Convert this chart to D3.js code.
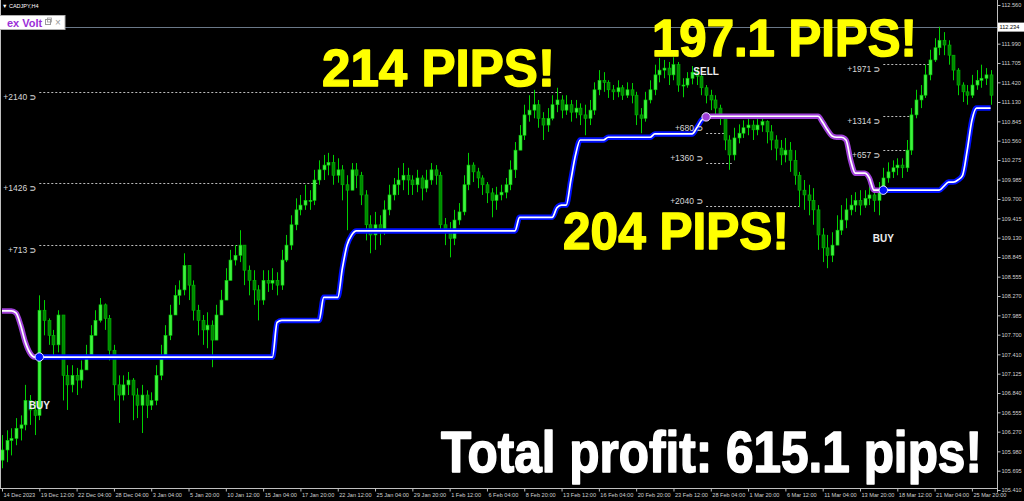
<!DOCTYPE html>
<html><head><meta charset="utf-8">
<script src="https://cdn.jsdelivr.net/npm/d3@7"></script>
<style>html,body{margin:0;padding:0;background:#000;overflow:hidden}svg{display:block}</style>
</head><body><svg id="c" width="1024" height="501"></svg>
<script>
// ---------------- DATA ----------------
const symbol = "CADJPY,H4";
const indicatorName = "ex Volt";
const dateLabels = ["14 Dec 2023","19 Dec 12:00","22 Dec 04:00","28 Dec 04:00","3 Jan 04:00","5 Jan 20:00","10 Jan 12:00","15 Jan 04:00","17 Jan 20:00","22 Jan 12:00","25 Jan 04:00","29 Jan 20:00","1 Feb 12:00","6 Feb 04:00","8 Feb 20:00","13 Feb 12:00","16 Feb 04:00","20 Feb 20:00","23 Feb 12:00","28 Feb 04:00","1 Mar 20:00","6 Mar 12:00","11 Mar 04:00","13 Mar 20:00","18 Mar 12:00","21 Mar 04:00","25 Mar 20:00"];
const dateLabelBars = [0,8,16,24,32,40,48,56,64,72,80,88,96,104,112,120,128,136,144,152,160,168,176,184,192,200,208];
const priceTicks = [112.560,112.275,111.990,111.705,111.420,111.130,110.845,110.560,110.275,109.985,109.700,109.415,109.130,108.845,108.555,108.270,107.985,107.700,107.410,107.125,106.840,106.555,106.270,105.980,105.695,105.410];
const currentPrice = 112.234;
const firstOpen = 105.85;
const closes = [
106.00,106.14,106.17,106.32,106.37,106.73,106.59,106.51,108.06,107.91,
107.69,107.55,107.99,107.10,106.96,107.10,107.03,107.18,107.40,107.69,
107.91,108.14,107.94,107.47,106.96,106.81,106.96,107.03,106.81,106.66,
106.81,106.66,106.73,107.10,107.40,107.69,107.99,108.28,108.36,108.72,
108.43,108.06,107.91,107.77,107.84,107.62,107.99,108.21,108.50,108.80,
108.87,109.02,108.65,108.50,108.36,108.21,108.50,108.46,108.50,108.43,
108.80,109.02,109.32,109.54,109.61,109.68,109.68,109.98,110.13,110.20,
110.24,110.05,110.13,109.91,109.83,110.13,110.05,109.76,109.32,109.17,
109.32,109.24,109.54,109.76,109.91,109.98,110.05,109.98,109.91,110.01,
109.86,109.98,110.13,110.05,109.32,109.24,109.12,109.39,109.51,109.91,
110.20,110.10,110.01,109.91,109.79,109.68,109.76,109.80,109.91,110.13,
110.42,110.64,110.94,111.01,111.09,110.89,110.79,110.89,111.09,111.16,
111.01,111.09,110.98,111.04,110.94,110.89,111.01,111.31,111.45,111.42,
111.31,111.28,111.34,111.23,111.31,111.23,110.94,110.89,111.16,111.31,
111.53,111.60,111.63,111.53,111.68,111.38,111.38,111.48,111.57,111.51,
111.34,111.23,111.16,111.04,110.89,110.57,110.35,110.60,110.67,110.75,
110.79,110.72,110.79,110.84,110.69,110.57,110.45,110.35,110.42,110.27,
110.05,109.83,109.76,109.68,109.54,109.17,108.98,108.87,109.02,109.24,
109.39,109.54,109.61,109.68,109.61,109.71,109.76,109.68,109.83,110.01,
110.10,110.16,110.20,110.16,110.42,110.94,111.16,111.23,111.53,111.75,
111.93,112.04,111.97,111.82,111.60,111.38,111.28,111.23,111.38,111.45,
111.48,111.53,111.23];
const highs = [
106.22,106.29,106.32,106.47,106.51,106.96,106.81,106.73,108.28,108.21,
107.94,107.77,108.06,107.55,107.25,107.25,107.21,107.32,107.55,107.84,
108.06,108.24,108.16,107.99,107.55,107.10,107.10,107.15,107.06,106.91,
106.96,106.88,106.85,107.25,107.55,107.84,108.14,108.43,108.50,108.90,
108.65,108.50,108.14,107.99,108.03,107.91,108.14,108.36,108.68,108.95,
109.02,109.24,108.95,108.72,108.65,108.43,108.65,108.65,108.68,108.62,
108.95,109.17,109.46,109.71,109.76,109.91,109.83,110.13,110.27,110.35,
110.38,110.35,110.30,110.20,110.05,110.23,110.23,110.10,109.83,109.46,
109.51,109.46,109.68,109.91,110.01,110.16,110.23,110.16,110.05,110.13,
110.05,110.13,110.23,110.20,110.10,109.42,109.36,109.54,109.64,110.05,
110.38,110.24,110.16,110.05,109.95,109.86,109.88,109.91,110.01,110.27,
110.54,110.79,111.09,111.23,111.31,111.16,110.98,111.04,111.23,111.34,
111.23,111.23,111.16,111.16,111.11,111.09,111.16,111.42,111.60,111.57,
111.45,111.38,111.45,111.38,111.42,111.41,111.28,111.04,111.28,111.45,
111.68,111.78,111.75,111.72,111.79,111.72,111.48,111.57,111.66,111.63,
111.57,111.38,111.31,111.23,111.09,110.94,110.64,110.75,110.80,110.86,
110.89,110.86,110.89,110.91,110.86,110.79,110.64,110.57,110.60,110.54,
110.42,110.10,109.98,109.91,109.86,109.61,109.27,109.17,109.21,109.46,
109.61,109.71,109.76,109.80,109.83,109.83,109.91,109.86,109.95,110.16,
110.24,110.27,110.30,110.30,110.57,111.04,111.31,111.38,111.68,111.90,
112.07,112.24,112.16,112.04,111.82,111.63,111.42,111.38,111.53,111.60,
111.68,111.63,111.60];
const lows = [
105.73,105.82,105.92,106.07,106.14,106.29,106.37,106.22,106.44,107.69,
107.55,107.40,107.44,106.73,106.59,106.85,106.81,106.91,107.21,107.47,
107.69,107.88,107.77,107.32,106.73,106.40,106.73,106.81,106.44,106.47,
106.25,106.47,106.59,106.66,107.03,107.40,107.62,107.99,108.14,108.28,
108.21,107.91,107.69,107.55,107.50,107.22,107.69,107.99,108.24,108.58,
108.72,108.77,108.43,108.28,108.14,107.91,108.14,108.33,108.36,108.28,
108.36,108.77,108.95,109.24,109.46,109.54,109.54,109.61,109.91,109.98,
110.05,109.91,109.94,109.68,109.24,109.83,109.86,109.61,109.09,108.90,
108.95,109.02,109.17,109.46,109.68,109.76,109.83,109.76,109.76,109.80,
109.68,109.80,109.91,109.91,109.21,109.02,108.84,109.02,109.32,109.46,
109.83,109.95,109.86,109.76,109.64,109.43,109.54,109.68,109.71,109.83,
110.01,110.42,110.57,110.84,110.89,110.75,110.57,110.69,110.86,110.98,
110.89,110.94,110.84,110.89,110.79,110.64,110.79,110.94,111.23,111.28,
111.19,111.16,111.20,111.16,111.19,111.11,110.79,110.67,110.84,111.11,
111.23,111.42,111.48,111.38,111.45,111.28,111.20,111.34,111.39,111.38,
111.23,111.11,111.01,110.94,110.79,110.42,110.13,110.27,110.52,110.60,
110.64,110.57,110.64,110.69,110.52,110.42,110.27,110.20,110.24,110.10,
109.91,109.58,109.54,109.46,109.32,108.95,108.77,108.68,108.77,109.02,
109.17,109.27,109.46,109.51,109.46,109.57,109.61,109.51,109.46,109.76,
109.94,110.01,110.05,110.01,110.10,110.35,110.89,111.04,111.19,111.45,
111.72,111.82,111.82,111.68,111.45,111.23,111.13,111.09,111.19,111.31,
111.34,111.38,111.09];
// trailing stop level: [bar index, level] - level holds until the next entry
const trailLevels = [[0,108.05],[3,108.02],[4,107.84],[5,107.59],[6,107.43],[7,107.37],[59,107.88],[60,107.91],[69,108.25],[73,108.68],[74,109.02],[75,109.17],[76,109.23],[111,109.43],[119,109.57],[120,109.61],[122,109.98],[123,110.35],[124,110.57],[130,110.61],[140,110.66],[149,110.75],[150,110.86],[151,110.91],[152,110.92],[176,110.83],[177,110.72],[178,110.63],[179,110.61],[181,110.57],[182,110.27],[183,110.08],[186,110.01],[187,109.83],[202,109.89],[203,109.95],[205,109.98],[206,110.05],[207,110.42],[208,110.86],[209,111.04]];
const startDir = "sell";
const signalBars = [8,151,189];
const signalDirs = ["buy","sell","buy"];
const signalTexts = ["BUY","SELL","BUY"];
// profit targets: [signal #, label, price level, end bar]
const targets = [[0,"+713",109.02,50.6],[0,"+1426",109.94,67.8],[0,"+2140",111.28,120.0],
                 [1,"+680",110.67,155.0],[1,"+1360",110.23,156.5],[1,"+2040",109.60,171.0],
                 [2,"+657",110.42,194.3],[2,"+1314",110.92,194.7],[2,"+1971",111.69,199.0]];
const callouts = ["214 PIPS!","197.1 PIPS!","204 PIPS!"];
const totalText = "Total profit: 615.1 pips!";

// ---------------- DRAW ----------------
const svg = d3.select("#c");
svg.append("rect").attr("width",1024).attr("height",501).attr("fill","#000");
const N = closes.length;
const x = d3.scaleLinear().domain([0, N-1]).range([2, 2 + 4.663*(N-1)]);
const y = d3.scaleLinear().domain([105.41, 112.56]).range([490, 5]);
const F = "'Liberation Sans', Arial, sans-serif";
const plotR = 997, plotB = 488.5;

const g = svg.append("g");
// current price line
g.append("line").attr("x1",0).attr("x2",plotR).attr("y1",Math.round(y(currentPrice))+0.5).attr("y2",Math.round(y(currentPrice))+0.5)
  .attr("stroke","#6a7888").attr("stroke-width",1);

// target dotted lines
targets.forEach(t=>{
  const si = signalBars[t[0]];
  const yy = Math.round(y(t[2]))+0.5;
  g.append("line").attr("x1",x(si)).attr("x2",x(t[3])).attr("y1",yy).attr("y2",yy)
    .attr("stroke","#bdbdbd").attr("stroke-width",1).attr("stroke-dasharray","2,2");
});

// candles
const opens = closes.map((c,i)=> i===0 ? firstOpen : closes[i-1]);
const bars = d3.range(N).map(i=>({i,o:opens[i],c:closes[i],h:Math.max(highs[i],opens[i],closes[i]),l:Math.min(lows[i],opens[i],closes[i])}));
const cg = g.append("g");
cg.selectAll("line.w").data(bars).join("line").attr("class","w")
  .attr("x1",d=>Math.round(x(d.i))+0.5).attr("x2",d=>Math.round(x(d.i))+0.5)
  .attr("y1",d=>y(d.h)).attr("y2",d=>y(d.l)).attr("stroke","#00d000").attr("stroke-width",1);
cg.selectAll("rect.b").data(bars).join("rect").attr("class","b")
  .attr("x",d=>Math.round(x(d.i))-1).attr("width",3)
  .attr("y",d=>y(Math.max(d.o,d.c))).attr("height",d=>Math.max(1,Math.abs(y(d.o)-y(d.c))))
  .attr("fill",d=>d.c>=d.o?"#40f040":"#008800").attr("stroke",d=>d.c>=d.o?"#00d000":"#00b800").attr("stroke-width",0.6);

// trailing line
const trail = d3.range(N).map(i=>{let v=trailLevels[0][1]; for(const [k,val] of trailLevels){ if(k<=i) v=val; } return v;});
const bounds = [0, ...signalBars, N-1];
let dir = startDir;
const segs = [];
for (let s=0;s<bounds.length-1;s++){
  segs.push({from:bounds[s], to:bounds[s+1], dir});
  dir = dir==="buy"?"sell":"buy";
}
const lineGen = d3.line().x(i=>x(i)).y(i=>y(trail[i])).curve(d3.curveMonotoneX);
const tg = g.append("g");
segs.forEach(s=>{
  const idx = d3.range(s.from, s.to+1);
  const col = s.dir==="buy" ? "#0010ff" : "#a040d8";
  tg.append("path").attr("d",lineGen(idx)).attr("fill","none").attr("stroke",col).attr("stroke-width",5.5).attr("stroke-linejoin","round");
  tg.append("path").attr("d",lineGen(idx)).attr("fill","none").attr("stroke","#ffffff").attr("stroke-width",1.7).attr("stroke-linejoin","round");
});
signalBars.forEach((si,k)=>{
  const col = signalDirs[k]==="buy" ? "#0010ff" : "#a040d8";
  tg.append("circle").attr("cx",x(si)).attr("cy",y(trail[si])).attr("r",4.2).attr("fill",col).attr("stroke","#e8e8ff").attr("stroke-width",1);
  const off = signalDirs[k]==="buy" ? 52 : -42;
  g.append("text").attr("x",x(si)).attr("y",y(trail[si])+off).attr("text-anchor","middle")
    .attr("font-family",F).attr("font-weight","bold").attr("font-size",10).attr("fill","#eeeeee").text(signalTexts[k]);
});

// target labels
targets.forEach(t=>{
  const si = signalBars[t[0]];
  const yy = y(t[2]) + (signalDirs[t[0]]==="buy" ? 5 : -5);
  const tx = g.append("text").attr("x",x(si)-3).attr("y",yy+3).attr("text-anchor","end")
    .attr("font-family",F).attr("font-size",8.5).attr("fill","#d8d8d8");
  tx.append("tspan").text(t[1]+" ");
  tx.append("tspan").attr("font-weight","bold").attr("font-family","'DejaVu Sans',sans-serif").attr("font-size",8).text("⊃");
});

// frame
g.append("line").attr("x1",0.5).attr("x2",0.5).attr("y1",0).attr("y2",plotB).attr("stroke","#bfbfbf");
g.append("line").attr("x1",plotR+0.5).attr("x2",plotR+0.5).attr("y1",0).attr("y2",plotB+4).attr("stroke","#bfbfbf");
g.append("line").attr("x1",0).attr("x2",plotR+0.5).attr("y1",plotB).attr("y2",plotB).attr("stroke","#bfbfbf");

// axes
const ya = svg.append("g").attr("transform",`translate(${plotR+0.5},0)`)
  .call(d3.axisRight(y).tickValues(priceTicks).tickFormat(d3.format(".3f")).tickSize(3).tickPadding(1));
ya.select(".domain").remove();
ya.selectAll("line").attr("stroke","#bfbfbf");
ya.selectAll("text").attr("fill","#d0d0d0").attr("font-family",F).attr("font-size",5.6);
const xa = svg.append("g").attr("transform",`translate(0,${plotB})`)
  .call(d3.axisBottom(x).tickValues(dateLabelBars).tickFormat((d,i)=>dateLabels[i]).tickSize(3));
xa.select(".domain").remove();
xa.selectAll("line").attr("stroke","#bfbfbf");
xa.selectAll("text").attr("fill","#d0d0d0").attr("font-family",F).attr("font-size",5.6)
  .attr("text-anchor","start").attr("dx",1).attr("y",4.5);

// current price box
const cpy = y(currentPrice);
svg.append("rect").attr("x",plotR+1).attr("y",cpy-4.5).attr("width",26).attr("height",9).attr("fill","#ffffff");
svg.append("text").attr("x",plotR+2.5).attr("y",cpy+2).attr("font-family",F).attr("font-size",5.6).attr("fill","#000").text(currentPrice.toFixed(3));

// header
svg.append("text").attr("x",2).attr("y",8).attr("font-family",F).attr("font-size",5.5).attr("fill","#ffffff").text("▼  "+symbol);
svg.append("rect").attr("x",-1).attr("y",15.5).attr("width",66).attr("height",14).attr("fill","#ffffff").attr("stroke","#b0b0b0");
svg.append("text").attr("x",7).attr("y",27).attr("font-family",F).attr("font-weight","bold").attr("font-size",11).attr("fill","#9b30d8").text(indicatorName);
svg.append("rect").attr("x",45.5).attr("y",19.5).attr("width",5).attr("height",5).attr("fill","none").attr("stroke","#9a9a9a");
svg.append("rect").attr("x",47.5).attr("y",18).attr("width",4).attr("height",4).attr("fill","none").attr("stroke","#9a9a9a").attr("stroke-width",0.8);
svg.append("text").attr("x",55).attr("y",26).attr("font-family",F).attr("font-size",10).attr("fill","#9a9a9a").text("×");

// big callouts: fitted to width by font size, height by vertical scale
function fitText(str, x0, base, width, capH, color){
  const t = svg.append("text").attr("font-family",F).attr("font-weight","bold").attr("font-size",50).text(str);
  const L = t.node().getComputedTextLength();
  const fs = 50*width/L;
  const sy = (capH/0.716)/fs;
  t.attr("font-size",fs).attr("x",0).attr("y",0)
   .attr("transform",`translate(${x0},${base}) scale(1,${sy})`)
   .attr("fill",color).attr("stroke",color).attr("stroke-width",1.4).attr("stroke-linejoin","round");
}
fitText(callouts[0],322,86,233,37,"#ffff00");
fitText(callouts[1],652,56,265,37,"#ffff00");
fitText(callouts[2],563,249,226,37,"#ffff00");
fitText(totalText,441,472,541,41,"#ffffff");
</script></body></html>
